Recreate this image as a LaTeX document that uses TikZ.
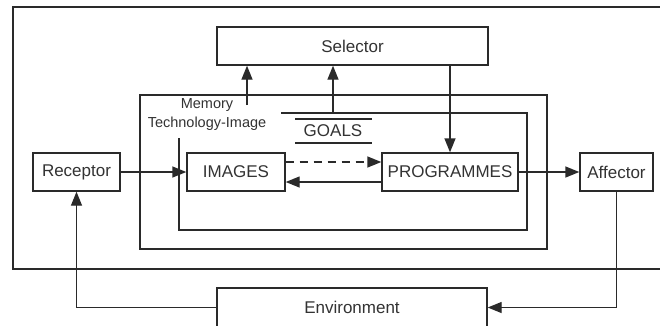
\documentclass[tikz,border=0pt]{standalone}
\usepackage{fontspec}
\setmainfont{Liberation Sans}
\usetikzlibrary{arrows.meta}
\definecolor{ln}{HTML}{2A2A2A}
\definecolor{tx}{HTML}{333333}
\tikzset{
  box/.style={draw=ln, line width=1.4pt, fill=white, inner sep=0pt, text=tx,
    font=\fontsize{17}{20}\selectfont},
  wire/.style={draw=ln, line width=1.4pt},
  arr/.style={wire, -{Triangle[length=14pt,width=11pt]}},
  lbl/.style={text=tx, inner sep=0pt}
}
\begin{document}
\begin{tikzpicture}[x=1pt,y=-1pt]
\clip (0,0) rectangle (660,325);
\fill[white] (0,0) rectangle (660,325);
% outer frame (open to the right)
\draw[wire] (661,7) -- (13,7) -- (13,269) -- (661,269);
% memory box
\draw[wire] (140,95) rectangle (547,249);
% inner box (open at top-left)
\draw[wire] (179,138) -- (179,230) -- (527,230) -- (527,113) -- (281,113);
% GOALS
\draw[wire] (295,119) -- (372,119);
\draw[wire] (295,143) -- (372,143);
\node[lbl, font=\fontsize{17}{20}\selectfont] (goals) at (333,131) {GOALS};
% memory label
\node[lbl, align=center, font=\fontsize{14.5}{19}\selectfont] (mem) at (207,115) {Memory\\Technology-Image};
% boxes
\node[box, minimum width=271, minimum height=38] (sel) at (352.5,46) {Selector};
\node[box, minimum width=98, minimum height=38] (img) at (236,172) {IMAGES};
\node[box, minimum width=136, minimum height=38] (prog) at (450,172) {PROGRAMMES};
\node[box, minimum width=87, minimum height=38] (rec) at (76.5,172) {Receptor};
\node[box, minimum width=73, minimum height=38] (aff) at (616.5,172) {Affector};
\node[box, minimum width=270, minimum height=39] (env) at (352,307.5) {Environment};
% connectors
\coordinate (memtop) at (247,105);
\coordinate (goaltop) at (333,113);
\draw[arr] (memtop) -- (memtop |- sel.south);
\draw[arr] (goaltop) -- (goaltop |- sel.south);
\draw[arr] (sel.south -| prog) -- (prog.north);
\draw[arr] (rec.east) -- (img.west);
\draw[arr, dash pattern=on 8pt off 6pt] ([yshift=10pt]img.east) -- ([yshift=10pt]prog.west);
\draw[arr] ([yshift=-10pt]prog.west) -- ([yshift=-10pt]img.east);
\draw[arr] (prog.east) -- (aff.west);
\draw[arr] (aff.south) |- (env.east);
\draw[arr] (env.west) -| (rec.south);
\end{tikzpicture}
\end{document}
